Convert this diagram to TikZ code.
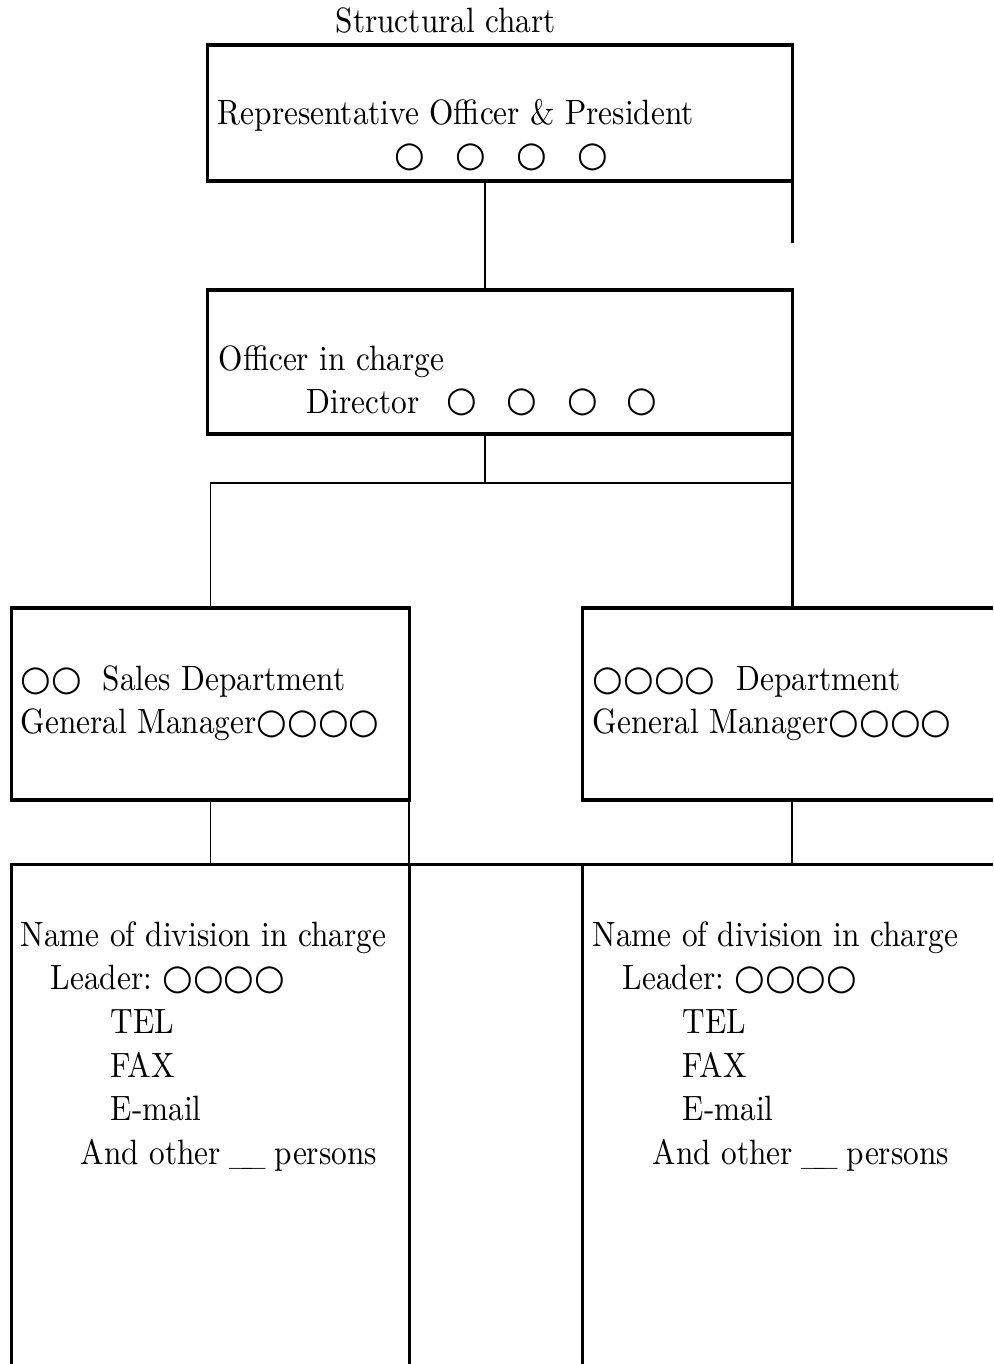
\documentclass[tikz,border=0pt]{standalone}
\usepackage{fontspec}
\setmainfont{Latin Modern Roman}[FakeStretch=0.89]
\newfontfamily\symf{DejaVu Sans}
\newcommand{\oo}{{\symf ○}}
\begin{document}
\begin{tikzpicture}[x=0.01cm,y=-0.01cm,
  box/.style={draw, line width=0.9pt, rectangle, inner sep=0pt, outer sep=0pt},
  ghost/.style={rectangle, inner sep=0pt, outer sep=0pt},
  boxline/.style={line width=0.9pt},
  edge/.style={line width=0.5pt},
  txt/.style={anchor=base west, inner sep=0pt, font=\fontsize{10}{12}\selectfont},
  circ/.style={anchor=center, inner sep=0pt, font=\fontsize{10}{12}\selectfont\symf}]
\useasboundingbox (0,0) rectangle (993,1364);
% boxes
\node[box, minimum width=5.84cm, minimum height=1.36cm] (pres) at (500,113) {};
\node[box, minimum width=5.84cm, minimum height=1.44cm] (off) at (500,362) {};
\node[box, minimum width=3.97cm, minimum height=1.92cm] (sales) at (210.5,704) {};
\node[ghost, minimum width=4.10cm, minimum height=1.92cm] (dept) at (788,704) {};
\draw[boxline] (dept.north east) -- (dept.north west) -- (dept.south west) -- (dept.south east);
\node[ghost, minimum width=3.97cm, minimum height=4.99cm] (div1) at (210.5,1114.5) {};
\node[ghost, minimum width=4.10cm, minimum height=4.99cm] (div2) at (788,1114.5) {};
\draw[boxline] (div1.south west) -- (div1.north west) -- (div2.north east);
\draw[boxline] (div1.north east) -- (div1.south east);
\draw[boxline] (div2.north west) -- (div2.south west);
% connectors
\coordinate (stub) at (792,243);
\draw[boxline] (pres.south east) -- (pres.south east |- stub);
\coordinate (j) at (485,483);
\draw[edge] (pres.south -| j) -- (off.north -| j);
\draw[edge] (off.south -| j) -- (j);
\draw[edge] (sales.north) |- (off.south east |- j);
\draw[boxline] (off.south east) -- (off.south east |- dept.north);
\draw[edge] (sales.south) -- (sales.south |- div1.north);
\draw[edge] (sales.south east) -- (sales.south east |- div1.north);
\draw[edge] (dept.south -| off.south east) -- (div2.north -| off.south east);
% texts
\node[txt] (title) at (335,33) {Structural chart};
\node[txt] (t1) at (217,125) {Representative Officer \& President};
\foreach \x [count=\i] in {410,471,532,593} \node[circ] (pc\i) at (\x,157) {○};
\node[txt] (t2) at (218,370) {Officer in charge};
\node[txt] (t3) at (306,413) {Director};
\foreach \x [count=\i] in {462,522,583,642} \node[circ] (dc\i) at (\x,402) {○};
\node[txt] (s1) at (20,690) {\oo\oo\ \ Sales Department};
\node[txt] (s2) at (20,733) {General Manager\oo\oo\oo\oo};
\node[txt] (d1) at (592,690) {\oo\oo\oo\oo\ \ Department};
\node[txt] (d2) at (592,733) {General Manager\oo\oo\oo\oo};
\node[txt] (a1) at (20,946) {Name of division in charge};
\node[txt] (a2) at (50,989) {Leader:\ \oo\oo\oo\oo};
\node[txt] (a3) at (110,1033) {TEL};
\node[txt] (a4) at (110,1077) {FAX};
\node[txt] (a5) at (110,1120) {E-mail};
\node[txt] (a6) at (80,1164) {And other\kern.25em\_\kern-.3em\_\kern.25em persons};
\node[txt] (b1) at (592,946) {Name of division in charge};
\node[txt] (b2) at (622,989) {Leader:\ \oo\oo\oo\oo};
\node[txt] (b3) at (682,1033) {TEL};
\node[txt] (b4) at (682,1077) {FAX};
\node[txt] (b5) at (682,1120) {E-mail};
\node[txt] (b6) at (652,1164) {And other\kern.25em\_\kern-.3em\_\kern.25em persons};
\end{tikzpicture}
\end{document}
